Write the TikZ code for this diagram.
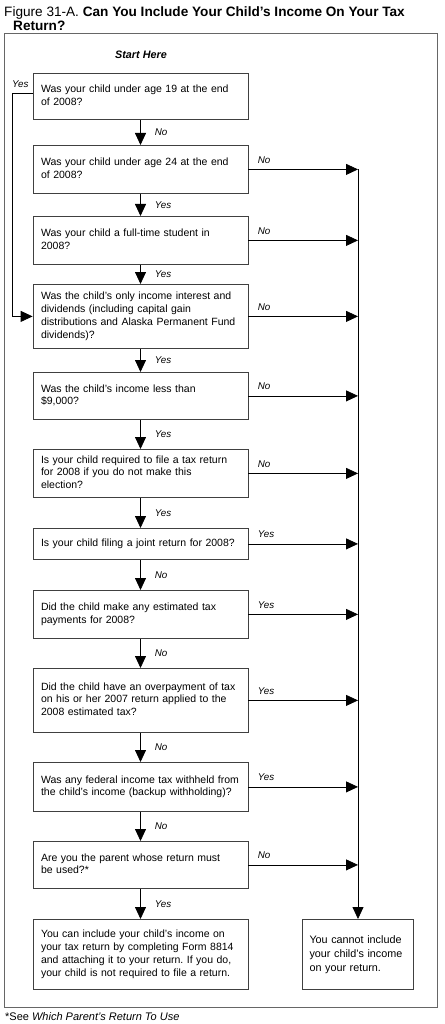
\documentclass[tikz,border=0pt]{standalone}
\usepackage{fontspec}
\setmainfont{Liberation Sans}
\usetikzlibrary{arrows.meta,calc}
\newcommand{\qt}[1]{\begin{tabular}{@{}l@{}}#1\end{tabular}}
\begin{document}
\frenchspacing
\begin{tikzpicture}[x=1pt,y=-1pt,
  qbox/.style={draw=black!75, line width=0.8pt, minimum width=215pt, text width=199pt,
    inner xsep=8pt, inner ysep=0pt, align=left, font=\fontsize{10.5}{12.8}\selectfont, anchor=north},
  rbox/.style={draw=black!75, line width=0.8pt, minimum width=111pt, text width=97pt,
    inner xsep=7pt, inner ysep=0pt, align=left, font=\fontsize{10.8}{14}\selectfont, anchor=north},
  arr/.style={line width=0.8pt, -{Triangle[length=12pt,width=11pt]}},
  dlab/.style={font=\fontsize{9.8}{11}\selectfont\itshape, anchor=west, xshift=14pt, inner sep=0pt},
  rlab/.style={font=\fontsize{9.8}{11}\selectfont\itshape, anchor=base west, xshift=9pt, yshift=6pt, inner sep=0pt},
  frame/.style={draw=black!60, line width=0.9pt}
]
\useasboundingbox (0,0) rectangle (444,1024);
% title
\node[anchor=base west, inner sep=0pt, font=\fontsize{13.6}{15}\selectfont] (t1) at (4,17)
  {Figure 31-A. \textbf{Can You Include Your Child’s Income On Your Tax}};
\node[anchor=base west, inner sep=0pt, font=\fontsize{13.6}{15}\selectfont\bfseries] (t2) at (13,31) {Return?};
% frame
\draw[frame] (4,33) rectangle (437,1007);
\node[font=\fontsize{10.8}{12}\selectfont\bfseries\itshape, anchor=base, inner sep=0pt] (start) at (141,59) {Start Here};
% boxes
\node[qbox, minimum height=46pt] (q1) at (140.5,73) {\qt{Was your child under age 19 at the end\\of 2008?}};
\node[qbox, minimum height=48pt] (q2) at (140.5,145) {\qt{Was your child under age 24 at the end\\of 2008?}};
\node[qbox, minimum height=48pt] (q3) at (140.5,216) {\qt{Was your child a full-time student in\\2008?}};
\node[qbox, minimum height=64pt] (q4) at (140.5,284) {\qt{Was the child’s only income interest and\\dividends (including capital gain\\distributions and Alaska Permanent Fund\\dividends)?}};
\node[qbox, minimum height=47pt] (q5) at (140.5,372) {\qt{Was the child’s income less than\\\$9,000?}};
\node[qbox, minimum height=48pt] (q6) at (140.5,449) {\qt{Is your child required to file a tax return\\for 2008 if you do not make this\\election?}};
\node[qbox, minimum height=31pt] (q7) at (140.5,528) {\qt{Is your child filing a joint return for 2008?}};
\node[qbox, minimum height=48pt] (q8) at (140.5,590) {\qt{Did the child make any estimated tax\\payments for 2008?}};
\node[qbox, minimum height=64pt] (q9) at (140.5,668) {\qt{Did the child have an overpayment of tax\\on his or her 2007 return applied to the\\2008 estimated tax?}};
\node[qbox, minimum height=49pt] (q10) at (140.5,762) {\qt{Was any federal income tax withheld from\\the child’s income (backup withholding)?}};
\node[qbox, minimum height=47pt] (q11) at (140.5,841) {\qt{Are you the parent whose return must\\be used?*}};
\node[qbox, minimum height=70pt, font=\fontsize{10.5}{13.2}\selectfont] (q12) at (140.5,919) {\qt{You can include your child’s income on\\your tax return by completing Form 8814\\and attaching it to your return. If you do,\\your child is not required to file a return.}};
\node[rbox, minimum height=70pt] (rb) at (358,919) {\qt{You cannot include\\your child’s income\\on your return.}};
\coordinate (sp) at (358,0);
% down arrows
\foreach \a/\b/\l in {q1/q2/No,q2/q3/Yes,q3/q4/Yes,q4/q5/Yes,q5/q6/Yes,q6/q7/Yes,q7/q8/No,q8/q9/No,q9/q10/No,q10/q11/No,q11/q12/Yes}
  \draw[arr] (\a) -- node[dlab]{\l} (\b);
% right arrows
\foreach \a/\l in {q2/No,q3/No,q4/No,q5/No,q6/No,q7/Yes,q8/Yes,q9/Yes,q10/Yes,q11/No}
  \draw[arr] (\a.east) -- node[rlab, pos=0]{\l} (\a.east -| sp);
% spine
\draw[arr] (q2.east -| sp) -- (rb.north);
% yes loop
\coordinate (ly) at ($(q1.west)+(0,-3)$);
\draw[arr] (ly) -- (ly -| 12,0) |- (q4.west);
\node[font=\fontsize{9.8}{11}\selectfont\itshape, anchor=base west, inner sep=0pt] (yl) at (12,88) {Yes};
% footnote
\node[anchor=base west, inner sep=0pt, font=\fontsize{11}{12}\selectfont] (fn) at (5,1020) {*See \textit{Which Parent’s Return To Use}};
\end{tikzpicture}
\end{document}
